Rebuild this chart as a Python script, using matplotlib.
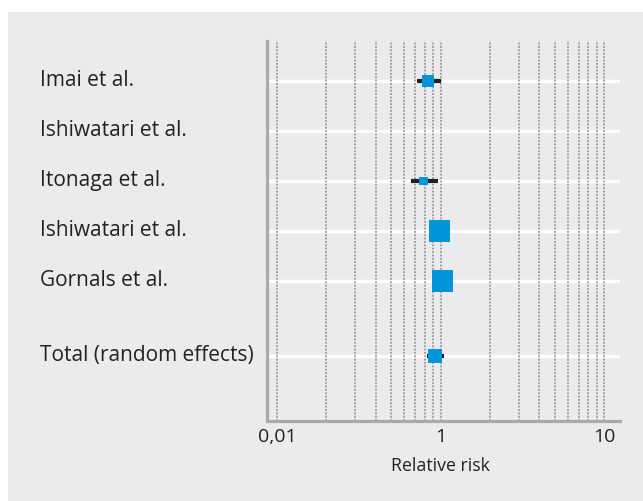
import numpy as np
import matplotlib
matplotlib.use("Agg")
import matplotlib.pyplot as plt
import matplotlib.transforms as mtransforms
from matplotlib.patches import Rectangle

# --- data ---
studies = ["Imai et al.", "Ishiwatari et al.", "Itonaga et al.",
           "Ishiwatari et al.", "Gornals et al."]
rr = [0.84, np.nan, 0.79, 0.99, 1.02]
ci_lo = [0.72, np.nan, 0.66, 0.93, 0.95]
ci_hi = [1.00, np.nan, 0.97, 1.06, 1.09]
weights = [13.0, np.nan, 7.3, 39.8, 39.8]  # % weight (box area)

total_label = "Total (random effects)"
total_rr = 0.93
total_lo = 0.83
total_hi = 1.05

grid_values = [0.1, 0.2, 0.3, 0.4, 0.5, 0.6, 0.7, 0.8, 0.9,
               1, 2, 3, 4, 5, 6, 7, 8, 9, 10]
tick_values = [0.1, 1, 10]
tick_labels = ["0,01", "1", "10"]
x_label = "Relative risk"

# --- styles ---
BG = "#ebebed"
BLUE = "#0096d9"
TEXT = "#222222"
SPINE = "#a9a9a9"
FONT = "Open Sans"

W, H = 643, 501
fig = plt.figure(figsize=(W / 100, H / 100), dpi=100)
fig.patch.set_facecolor("white")
fig.patches.append(Rectangle((8 / W, 0), 1 - 8 / W, 1 - 12 / H,
                             transform=fig.transFigure, facecolor=BG,
                             edgecolor="none", zorder=-10))

ax = fig.add_axes([267 / W, 1 - 421 / H, (620 - 267) / W, (421 - 41) / H])
ax.set_facecolor("none")
ax.set_xscale("log")
ax.set_xlim(0.0868, 12.5)
ax.set_ylim(6.8, -0.8)

row_y = list(range(len(studies)))
total_y = len(studies) + 0.5

# white row lines
for y in row_y + [total_y]:
    ax.axhline(y, color="white", lw=2.4, zorder=1)

# dotted grid
for g in grid_values:
    ax.axvline(g, color="#8a8a8a", lw=1.1, ls=(0, (1.2, 1.0)), zorder=2)

# confidence intervals
for y, lo, hi in zip(row_y, ci_lo, ci_hi):
    if np.isnan(lo):
        continue
    ax.plot([lo, hi], [y, y], color="#222222", lw=3, solid_capstyle="butt", zorder=3)
ax.plot([total_lo, total_hi], [total_y, total_y], color="#222222", lw=3,
        solid_capstyle="butt", zorder=3)

# boxes, side proportional to sqrt(weight)
w = np.array(weights, dtype=float)
side_px = 3.33 * np.sqrt(w)
ok = ~np.isnan(w)
ax.scatter(np.array(rr)[ok], np.array(row_y)[ok], marker="s",
           s=(side_px[ok] * 0.72) ** 2, color=BLUE, linewidths=0, zorder=4)
ax.scatter([total_rr], [total_y], marker="s", s=(14 * 0.72) ** 2,
           color=BLUE, linewidths=0, zorder=4)

# spines
for side in ["top", "right"]:
    ax.spines[side].set_visible(False)
for side in ["left", "bottom"]:
    ax.spines[side].set_color(SPINE)
    ax.spines[side].set_linewidth(2.3)

ax.set_yticks([])
ax.xaxis.set_minor_locator(matplotlib.ticker.NullLocator())
ax.set_xticks(tick_values)
ax.set_xticklabels(tick_labels, fontsize=14, color=TEXT, family=FONT)
ax.tick_params(axis="x", length=0, pad=5)
ax.set_xlabel(x_label, fontsize=12.8, color=TEXT, family=FONT)
ax.xaxis.set_label_coords((440 - 267) / (620 - 267), -0.095)

# study labels on the left
trans = mtransforms.blended_transform_factory(fig.transFigure, ax.transData)
offset = mtransforms.ScaledTranslation(0, -5 / 100, fig.dpi_scale_trans)
for y, name in zip(row_y + [total_y], studies + [total_label]):
    ax.text(40 / W, y, name, transform=trans + offset, ha="left", va="baseline",
            fontsize=15, color=TEXT, family=FONT, clip_on=False)

fig.savefig("out.png", dpi=100, facecolor=fig.get_facecolor())
